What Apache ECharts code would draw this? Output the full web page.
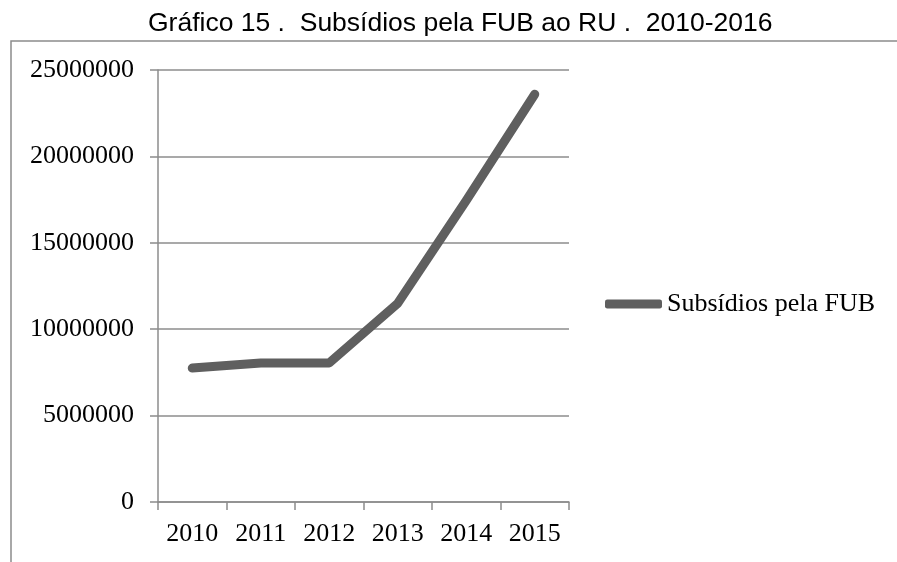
<!DOCTYPE html>
<html>
<head>
<meta charset="utf-8">
<script src="https://cdn.jsdelivr.net/npm/echarts@6/dist/echarts.min.js"></script>
<style>
  html, body { margin: 0; padding: 0; background: #fff; }
  #chart { width: 897px; height: 562px; }
</style>
</head>
<body>
<div id="chart"></div>
<script>
const years = ['2010', '2011', '2012', '2013', '2014', '2015']
const subsidios = [7750000, 8050000, 8050000, 11500000, 17450000, 23600000]
const seriesName = 'Subsídios pela FUB'

const gray = '#8c8c8c'
const lineColor = '#5f5f5f'
const serif = '"Liberation Serif", "Times New Roman", serif'

const myChart = echarts.init(document.getElementById('chart'))

const option = {
  animation: false,
  backgroundColor: '#fff',
  title: {
    text: 'Gráfico 15 .  Subsídios pela FUB ao RU .  2010-2016',
    left: 148,
    top: 10,
    padding: 0,
    textStyle: {
      fontFamily: '"Liberation Sans", Arial, sans-serif',
      fontWeight: 'normal',
      fontSize: 26.5,
      color: '#000'
    }
  },
  // moldura do gráfico
  graphic: [
    {
      type: 'rect',
      z: -1,
      shape: { x: 11, y: 41, width: 1000, height: 1000 },
      style: { fill: 'none', stroke: gray, lineWidth: 1.5 }
    }
  ],
  legend: {
    orient: 'vertical',
    left: 605,
    top: 291,
    padding: 0,
    itemWidth: 57,
    itemHeight: 9,
    data: [{ name: seriesName, icon: 'roundRect' }],
    textStyle: { fontFamily: serif, fontSize: 26, color: '#000' }
  },
  grid: {
    left: 158,
    right: 328,
    top: 70,
    bottom: 60
  },
  xAxis: {
    type: 'category',
    data: years,
    boundaryGap: true,
    axisLine: { lineStyle: { color: gray, width: 1.5 } },
    axisTick: { show: true, length: 8, lineStyle: { color: gray, width: 1.5 } },
    axisLabel: { fontFamily: serif, fontSize: 26, color: '#000', margin: 19 }
  },
  yAxis: {
    type: 'value',
    min: 0,
    max: 25000000,
    interval: 5000000,
    axisLine: { show: true, lineStyle: { color: gray, width: 1.5 } },
    axisTick: { show: true, length: 8, lineStyle: { color: gray, width: 1.5 } },
    axisLabel: {
      fontFamily: serif,
      fontSize: 26,
      color: '#000',
      margin: 24,
      formatter: (v) => String(v)
    },
    splitLine: { lineStyle: { color: gray, width: 1.5 } }
  },
  series: [
    {
      name: seriesName,
      type: 'line',
      data: subsidios,
      symbol: 'none',
      itemStyle: { color: lineColor },
      lineStyle: { color: lineColor, width: 9, cap: 'round', join: 'round' }
    }
  ]
}

myChart.setOption(option)
</script>
</body>
</html>
